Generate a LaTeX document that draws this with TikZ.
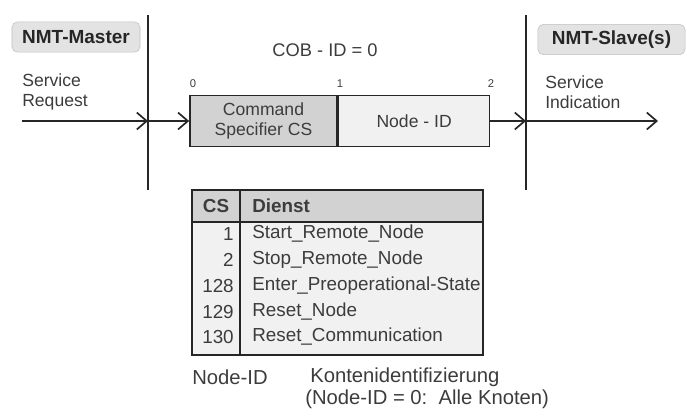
\documentclass[tikz,border=0pt]{standalone}
\usepackage{fontspec}
\setmainfont{Liberation Sans}
\usetikzlibrary{arrows.meta,positioning}
\definecolor{txt}{HTML}{3C3C3C}
\definecolor{ln}{HTML}{262626}
\definecolor{hdr}{HTML}{D2D2D2}
\definecolor{bdy}{HTML}{F1F1F1}
\definecolor{tag}{HTML}{E3E3E3}

\begin{document}
\begin{tikzpicture}[x=0.025cm,y=-0.025cm,
    txt/.style={text=txt,font=\fontsize{12.5}{14.5}\selectfont,inner sep=0pt},
    tag/.style={draw=gray!50,fill=tag,rounded corners=4pt,text=ln,font=\fontsize{13.5}{15}\selectfont\bfseries,minimum height=0.76cm},
    field/.style={draw=ln,line width=1pt,text=txt,align=center,minimum height=1.28cm,font=\fontsize{12.5}{14}\selectfont},
    bit/.style={text=txt,font=\fontsize{8}{9}\selectfont,inner sep=0pt},
    cell/.style={text=txt,font=\fontsize{13.4}{15}\selectfont,inner sep=0pt},
    arr/.style={-{Straight Barb[length=7pt,width=12pt]},line width=1.2pt,draw=ln}]
  \useasboundingbox (0,0) rectangle (687,416);

  % master / slave
  \node[tag,minimum width=3.2cm] (master) at (76,37) {NMT-Master};
  \node[tag,minimum width=3.68cm] (slave) at (611.5,39.5) {NMT-Slave(s)};
  \coordinate (mtop) at (148,15);
  \coordinate (mbot) at (148,190);
  \coordinate (stop) at (526,15);
  \coordinate (sbot) at (526,190);
  \draw[ln,line width=1.3pt] (mtop) -- (mbot);
  \draw[ln,line width=1.3pt] (stop) -- (sbot);

  \node[txt,align=left,anchor=west] (request) at (22,92) {Service\\Request};
  \node[txt,align=left,anchor=west] (indication) at (545,92) {Service\\Indication};

  % message
  \node[txt,font=\fontsize{13}{15}\selectfont] (cobid) at (325,50) {COB - ID = 0};
  \node[field,fill=hdr,minimum width=3.68cm] (cs) at (263.5,121) {Command\\Specifier CS};
  \node[field,fill=bdy,minimum width=3.78cm,right=0pt of cs] (nid) {Node - ID};
  \node[bit] (b0) at (193,84) {0};
  \node[bit] (b1) at (340,84) {1};
  \node[bit] (b2) at (491,84) {2};

  \coordinate (src) at (22,121);
  \coordinate (min) at (148,121);
  \coordinate (sin) at (526,121);
  \coordinate (dst) at (658,121);
  \draw[arr] (src) -- (min);
  \draw[arr] (min) -- (cs.west);
  \draw[arr] (nid.east) -- (sin);
  \draw[arr] (sin) -- (dst);

  % table
  \draw[ln,line width=1pt,fill=bdy] (192,190) rectangle (483,355);
  \draw[ln,line width=1pt,fill=hdr] (192,190) rectangle (483,222);
  \draw[ln,line width=1pt] (240,190) -- (240,355);
  \node[cell,font=\fontsize{13.4}{15}\selectfont\bfseries] (hcs) at (216,206) {CS};
  \node[cell,font=\fontsize{13.4}{15}\selectfont\bfseries,anchor=west] (hdienst) at (252,206) {Dienst};
  \foreach \cs/\dienst/\y in {1/Start\_Remote\_Node/234, 2/Stop\_Remote\_Node/260,
      128/Enter\_Preoperational-State/286, 129/Reset\_Node/312, 130/Reset\_Communication/337}
  {
    \node[cell,anchor=east] (cs\cs) at (234,\y) {\cs};
    \node[cell,anchor=west] (d\cs) at (252,\y) {\dienst};
  }

  % legend
  \node[txt,font=\fontsize{14.4}{16}\selectfont,anchor=west] (lnid) at (192,377) {Node-ID};
  \node[txt,font=\fontsize{14.4}{16}\selectfont,anchor=west] (lkid) at (310,377) {Kontenidentifizierung};
  \node[txt,font=\fontsize{14.4}{16}\selectfont,anchor=west] (lall) at (305,399) {(Node-ID = 0:~~Alle Knoten)};
\end{tikzpicture}
\end{document}
